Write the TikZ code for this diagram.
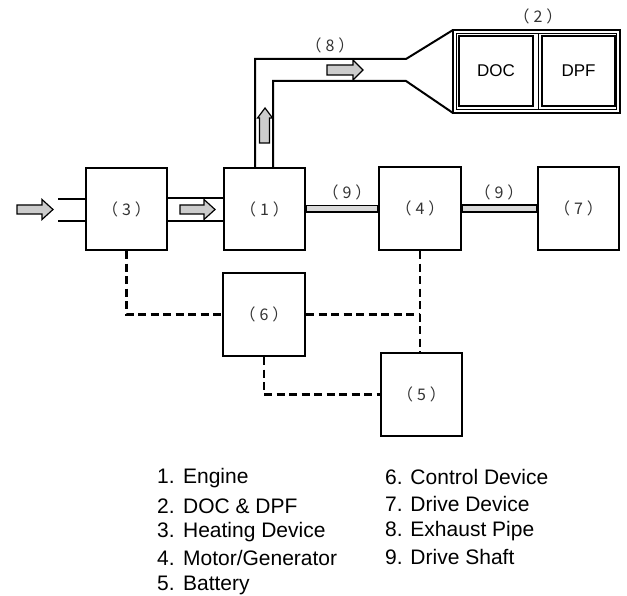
\documentclass[tikz,border=0pt]{standalone}
\usepackage{fontspec}
\setmainfont{Liberation Sans}
\newfontfamily\jpfont{Noto Sans CJK JP}
\usetikzlibrary{calc}
\newcommand{\plab}[1]{（\hspace{4pt}#1\hspace{4pt}）}
\tikzset{
  boxnode/.style={draw, line width=2.2pt, minimum width=81pt, minimum height=82pt, inner sep=0pt, font=\jpfont\fontsize{16}{18}\selectfont, text=black!80},
  thinbox/.style={draw, line width=2pt, inner sep=0pt},
  pipe/.style={line width=2pt},
  ctrl/.style={line width=2.2pt, dash pattern=on 8pt off 4.5pt},
  shaft/.style={draw=black, fill=black!15, line width=1.2pt},
  garrow/.style={draw=black, fill=black!20, line width=1.2pt, line join=miter},
  lbl/.style={font=\jpfont\fontsize{16}{18}\selectfont, text=black!80, inner sep=0pt},
  legend/.style={anchor=west, font=\fontsize{21}{24}\selectfont, inner sep=0pt}
}
\begin{document}
\begin{tikzpicture}[x=1pt, y=-1pt]
\useasboundingbox (0,0) rectangle (627,596);
% main boxes
\node[boxnode] (b3) at (126.5,209) {\plab{3}};
\node[boxnode] (b1) at (264.5,209) {\plab{1}};
\node[boxnode, minimum width=82pt, minimum height=83pt] (b4) at (420,208.5) {\plab{4}};
\node[boxnode, minimum width=81pt, minimum height=83pt] (b7) at (578.5,208.5) {\plab{7}};
\node[boxnode, minimum width=82pt, minimum height=83pt] (b6) at (264,314.5) {\plab{6}};
\node[boxnode, minimum width=81pt, minimum height=83pt] (b5) at (421.5,394.5) {\plab{5}};
% DOC & DPF
\draw[line width=2.2pt] (453,30) rectangle (620,113);
\draw[line width=0.9pt] (456.5,33.5) rectangle (616.5,109.5);
\draw[line width=0.9pt] (538,33.5) -- (538,109.5);
\node[thinbox, minimum width=74pt, minimum height=70pt, font=\fontsize{17}{20}\selectfont] (doc) at (496,71) {DOC};
\node[thinbox, minimum width=73pt, minimum height=70pt, font=\fontsize{17}{20}\selectfont] (dpf) at (578.5,71) {DPF};
\node[lbl] (l2) at (538,16) {\plab{2}};
% exhaust pipe
\coordinate (pl) at ($(b1.north)+(-9.5,0)$);
\coordinate (pr) at ($(b1.north)+(8.5,0)$);
\draw[pipe] (pl) -- (pl |- 0,59) -- (406,59) -- (453,30);
\draw[pipe] (pr) -- (pr |- 0,81) -- (406,81) -- (453,113);
\node[lbl] (l8) at (330,45) {\plab{8}};
% arrows in pipe
\filldraw[garrow] (327,65) -- (353,65) -- (353,60) -- (363,70) -- (353,80) -- (353,75) -- (327,75) -- cycle;
\filldraw[garrow] (259.5,143) -- (259.5,118) -- (257.5,118) -- (265,108) -- (272.5,118) -- (269.5,118) -- (269.5,143) -- cycle;
% intake
\draw[pipe] (58,199) -- (b3.west |- 0,199);
\draw[pipe] (58,221) -- (b3.west |- 0,221);
\filldraw[garrow] (17,205) -- (42,205) -- (42,199.5) -- (53,209.5) -- (42,219.5) -- (42,214) -- (17,214) -- cycle;
\draw[pipe] (b3.east |- 0,198) -- (b1.west |- 0,198);
\draw[pipe] (b3.east |- 0,221) -- (b1.west |- 0,221);
\filldraw[garrow] (180,205) -- (204,205) -- (204,199.5) -- (215,209.5) -- (204,219.5) -- (204,214) -- (180,214) -- cycle;
% drive shafts
\filldraw[shaft] ($(b1.east)+(0,-3.5)$) rectangle ($(b4.west)+(0,3.5)$);
\filldraw[shaft] ($(b4.east)+(0,-3.5)$) rectangle ($(b7.west)+(0,3.5)$);
\node[lbl] (l9a) at (347,192) {\plab{9}};
\node[lbl] (l9b) at (499,192) {\plab{9}};
% control lines
\draw[ctrl] (b3.south) |- (b6.west);
\draw[ctrl] (b4.south) -- (b4.south |- b5.north);
\draw[ctrl] (b6.east) -- (b6.east -| b4.south);
\draw[ctrl] (b6.south) |- (b5.west);
% legend
\node[legend] (t1) at (157,478) {1.\hspace{0.4em}Engine};
\node[legend] (t2) at (157,506) {2.\hspace{0.4em}DOC \& DPF};
\node[legend] (t3) at (157,532) {3.\hspace{0.4em}Heating Device};
\node[legend] (t4) at (157,558) {4.\hspace{0.4em}Motor/Generator};
\node[legend] (t5) at (157,585) {5.\hspace{0.4em}Battery};
\node[legend] (t6) at (385,477) {6. Control Device};
\node[legend] (t7) at (385,504) {7. Drive Device};
\node[legend] (t8) at (385,531) {8. Exhaust Pipe};
\node[legend] (t9) at (385,557) {9. Drive Shaft};
\end{tikzpicture}
\end{document}
